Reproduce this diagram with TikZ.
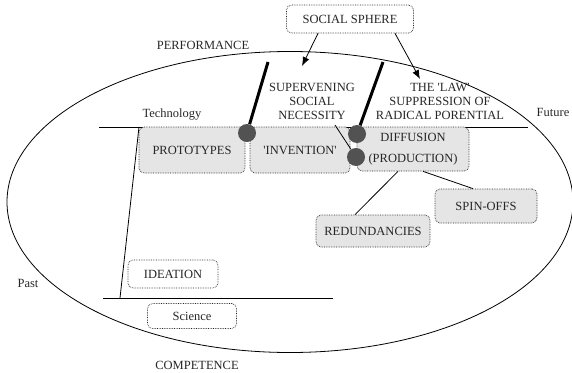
\documentclass[tikz,border=0pt]{standalone}
\usepackage{fontspec}
\setmainfont{Liberation Serif}
\usetikzlibrary{arrows.meta}
\begin{document}
\begin{tikzpicture}[x=1pt,y=-1pt,
   every node/.style={font=\fontsize{12.5}{14}\selectfont, text=black!85},
   box/.style={draw=black!85, densely dotted, line width=0.7pt, rounded corners=5pt, fill=white, inner sep=0pt},
   greybox/.style={box, fill=black!10},
   dot/.style={circle, fill=black!68, minimum size=18pt, inner sep=0pt},
   arr/.style={-{Latex[length=9pt,width=7pt]}, thick}]
   \useasboundingbox (0,0) rectangle (572,372);
   % the big oval
   \draw[thick] (290,202) ellipse [x radius=283, y radius=150.5];
   % the two time lines
   \coordinate (tl) at (99,127);   \coordinate (tr) at (528,127);
   \coordinate (sl) at (103,298);  \coordinate (sr) at (333,298);
   \coordinate (sfoot) at (120,298); \coordinate (stop) at (139,127);
   \draw[thick] (tl) -- (tr);
   \draw[thick] (sl) -- (sr);
   \draw[thick] (sfoot) -- (stop);
   % the boxes
   \node[box, minimum width=127, minimum height=28] (soc) at (350,19) {SOCIAL SPHERE};
   \node[greybox, minimum width=106, minimum height=46] (proto) at (192,150) {PROTOTYPES};
   \node[greybox, minimum width=100, minimum height=46] (inv) at (300,150) {\textquotesingle INVENTION\textquotesingle};
   \node[greybox, minimum width=112, minimum height=44, align=center] (diff) at (413,149) {DIFFUSION\\[7pt](PRODUCTION)};
   \node[greybox, minimum width=102, minimum height=34] (spin) at (486,206) {SPIN-OFFS};
   \node[greybox, minimum width=114, minimum height=32] (red) at (373,231) {REDUNDANCIES};
   \node[box, minimum width=90, minimum height=28] (idea) at (173,274) {IDEATION};
   \node[box, minimum width=89, minimum height=25] (sci) at (192,316) {Science};
   % labels
   \node (perf) at (203,45) {PERFORMANCE};
   \node (tech) at (172,115) {Technology};
   \node (fut) at (553,112) {Future};
   \node (past) at (28,283) {Past};
   \node (comp) at (197,365) {COMPETENCE};
   \node[align=center] (ssn) at (312,101) {SUPERVENING\\SOCIAL\\NECESSITY};
   \node[align=center] (law) at (440,101) {THE \textquotesingle LAW\textquotesingle\\SUPPRESSION OF\\RADICAL PORENTIAL};
   % the dots
   \node[dot] (c1) at (247,133) {};
   \node[dot] (c2) at (357,134) {};
   \node[dot] (c3) at (356,157) {};
   \coordinate (t1) at (268,62);
   \coordinate (t2) at (383,62);
   \coordinate (n1) at (335,125);
   \draw[line width=3pt] (t1) -- (c1);
   \draw[line width=3pt] (t2) -- (c2);
   \draw[thick] (n1) -- (c3);
   % from the social sphere
   \coordinate (a1) at (302,66);
   \coordinate (a2) at (420,79);
   \draw[arr] ([xshift=-32pt]soc.south) -- (a1);
   \draw[arr] ([xshift=45pt]soc.south) -- (a2);
   % out of diffusion
   \draw[thick] ([xshift=-15pt]diff.south) -- ([xshift=-18pt]red.north);
   \draw[thick] ([xshift=10pt]diff.south) -- ([xshift=-13pt]spin.north);
\end{tikzpicture}
\end{document}
